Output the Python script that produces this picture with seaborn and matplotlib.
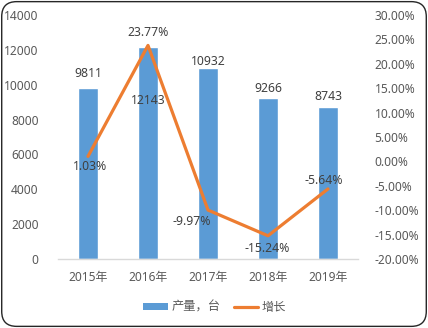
import matplotlib
matplotlib.use("Agg")
import matplotlib.pyplot as plt
from matplotlib.patches import FancyBboxPatch, Patch
from matplotlib.lines import Line2D
from matplotlib.ticker import FuncFormatter, MultipleLocator
import seaborn as sns
import pandas as pd

years = ["2015年", "2016年", "2017年", "2018年", "2019年"]
output_units = [9811, 12143, 10932, 9266, 8743]
growth_pct = [1.03, 23.77, -9.97, -15.24, -5.64]

# label offsets in pixels (dx, dy) relative to each mark
bar_label_offsets = [(0, 15), (0, -53), (0, 7), (0, 9), (0, 10)]
line_label_offsets = [(2, -10), (0, 13), (-16, -11), (-1, -13), (-4, 8)]

BAR_COLOR = "#5B9BD5"
LINE_COLOR = "#ED7D31"
TICK_COLOR = "#595959"
LABEL_COLOR = "#404040"

sns.set_theme(style="white")
plt.rcParams["font.family"] = ["Noto Sans", "Noto Sans CJK SC", "DejaVu Sans"]

df = pd.DataFrame({"year": years, "units": output_units, "growth": growth_pct,
                   "pos": range(len(years))})

fig = plt.figure(figsize=(4.28, 3.28), dpi=100)
ax = fig.add_axes([58 / 428, 69 / 328, 300 / 428, 244 / 328])

sns.barplot(data=df, x="year", y="units", color=BAR_COLOR, width=0.32,
            saturation=1, ax=ax)
ax.set_xlim(-0.5, len(years) - 0.5)
ax.set_ylim(0, 14000)
ax.yaxis.set_major_locator(MultipleLocator(2000))
ax.set_xlabel("")
ax.set_ylabel("")
for s in ["top", "left", "right"]:
    ax.spines[s].set_visible(False)
ax.spines["bottom"].set_color("#D9D9D9")
ax.spines["bottom"].set_linewidth(1.0)
ax.tick_params(axis="both", length=0, labelsize=8.6, labelcolor=TICK_COLOR)
ax.tick_params(axis="x", pad=9)
ax.tick_params(axis="y", pad=14)

for i, (v, (dx, dy)) in enumerate(zip(output_units, bar_label_offsets)):
    ax.annotate(f"{v}", xy=(i, v), xytext=(dx, dy), textcoords="offset pixels",
                ha="center", va="center", fontsize=8.8, color=LABEL_COLOR)

ax2 = ax.twinx()
sns.lineplot(data=df, x="pos", y="growth", color=LINE_COLOR, linewidth=2.3,
             ax=ax2)
ax2.set_xlim(-0.5, len(years) - 0.5)
ax2.set_ylim(-20, 30)
ax2.yaxis.set_major_locator(MultipleLocator(5))
ax2.yaxis.set_major_formatter(FuncFormatter(lambda v, p: f"{v:.2f}%".replace("\u2212", "-")))
ax2.set_xlabel("")
ax2.set_ylabel("")
for s in ["top", "left", "right", "bottom"]:
    ax2.spines[s].set_visible(False)
ax2.tick_params(axis="y", length=0, labelsize=8.6, labelcolor=TICK_COLOR, pad=12)

for i, (v, (dx, dy)) in enumerate(zip(growth_pct, line_label_offsets)):
    ax2.annotate(f"{v:.2f}%", xy=(i, v), xytext=(dx, dy), textcoords="offset pixels",
                 ha="center", va="center", fontsize=8.8, color=LABEL_COLOR)

handles = [Patch(facecolor=BAR_COLOR, edgecolor="none"),
           Line2D([0], [0], color=LINE_COLOR, linewidth=2.3)]
fig.legend(handles, ["产量，台", "增长"], loc="center", bbox_to_anchor=(0.502, 0.064),
           ncol=2, frameon=False, fontsize=8.8, labelcolor=TICK_COLOR,
           handlelength=2.0, handleheight=0.55, handletextpad=0.3, columnspacing=1.1)

border = FancyBboxPatch((0.004, 0.005), 0.992, 0.99, boxstyle="round,pad=0,rounding_size=0.035",
                        transform=fig.transFigure, facecolor="none", edgecolor="#262626",
                        linewidth=1.0, mutation_aspect=428 / 328)
fig.patches.append(border)

fig.savefig("out.png", dpi=100)
